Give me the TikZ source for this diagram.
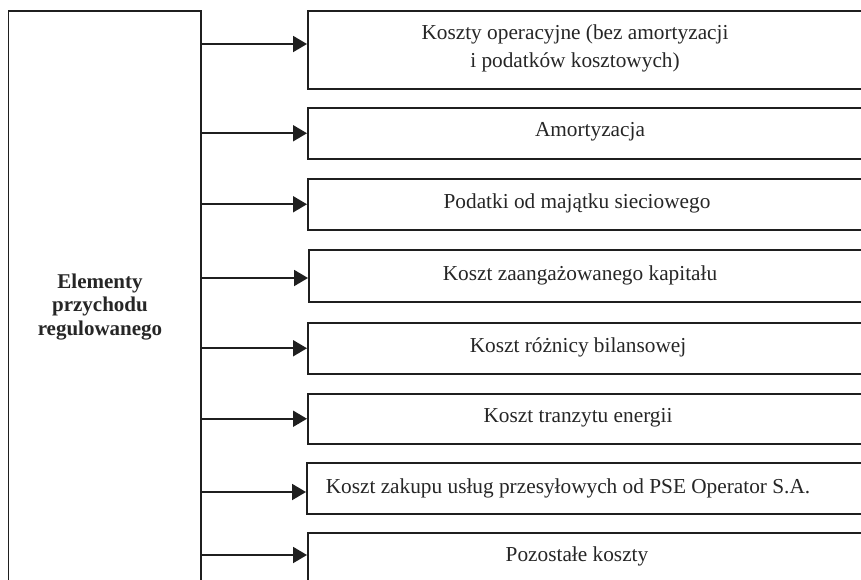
\documentclass[tikz,border=0pt]{standalone}
\usepackage{fontspec}
\setmainfont{Liberation Serif}
\usetikzlibrary{arrows.meta}
\begin{document}
\begin{tikzpicture}[x=1pt,y=-1pt,
  box/.style={draw=black!88, line width=1.5pt, anchor=north west, minimum width=580pt, inner sep=0pt},
  lbl/.style={font=\fontsize{21.3}{28}\selectfont, text=black!85, align=center, inner sep=0pt},
  arr/.style={line width=1.9pt, draw=black!88, -{Triangle[length=14pt,width=16pt]}}]
\clip (0,0) rectangle (861,579);
\fill[white] (0,0) rectangle (861,579);
% left box
\node[draw=black!88, line width=1.5pt, anchor=north west, minimum width=192.5pt, minimum height=600pt, inner sep=0pt] (L) at (7.5,10) {};
\node[font=\fontsize{21}{23.5}\selectfont\bfseries, text=black!85, align=center, inner sep=0pt] (Lt) at (100,307) {Elementy\\przychodu\\regulowanego};
% right boxes
\node[box, minimum height=78pt] (b1) at (307,10) {};
\node[box, minimum height=51pt] (b2) at (307,107) {};
\node[box, minimum height=51pt] (b3) at (307,178) {};
\node[box, minimum height=52pt] (b4) at (308,249) {};
\node[box, minimum height=51pt] (b5) at (307,322) {};
\node[box, minimum height=50pt] (b6) at (307,393) {};
\node[box, minimum height=51pt] (b7) at (306,462) {};
\node[box, minimum height=80pt] (b8) at (307,532) {};
% labels
\node[lbl] (t1) at (575,48) {Koszty operacyjne (bez amortyzacji\\i podatków kosztowych)};
\node[lbl] (t2) at (590,132) {Amortyzacja};
\node[lbl] (t3) at (577,203) {Podatki od majątku sieciowego};
\node[lbl] (t4) at (580,275) {Koszt zaangażowanego kapitału};
\node[lbl] (t5) at (578,347) {Koszt różnicy bilansowej};
\node[lbl] (t6) at (578,418) {Koszt tranzytu energii};
\node[lbl] (t7) at (568,488) {Koszt zakupu usług przesyłowych od PSE Operator S.A.};
\node[lbl] (t8) at (577,556) {Pozostałe koszty};
% arrows
\draw[arr] (L.east |- 0,44) -- (b1.west |- 0,44);
\draw[arr] (L.east |- b2.west) -- (b2.west);
\draw[arr] (L.east |- b3.west) -- (b3.west);
\draw[arr] (L.east |- 0,278) -- (b4.west |- 0,278);
\draw[arr] (L.east |- b5.west) -- (b5.west);
\draw[arr] (L.east |- b6.west) -- (b6.west);
\draw[arr] (L.east |- 0,492) -- (b7.west |- 0,492);
\draw[arr] (L.east |- 0,555) -- (b8.west |- 0,555);
\end{tikzpicture}
\end{document}
